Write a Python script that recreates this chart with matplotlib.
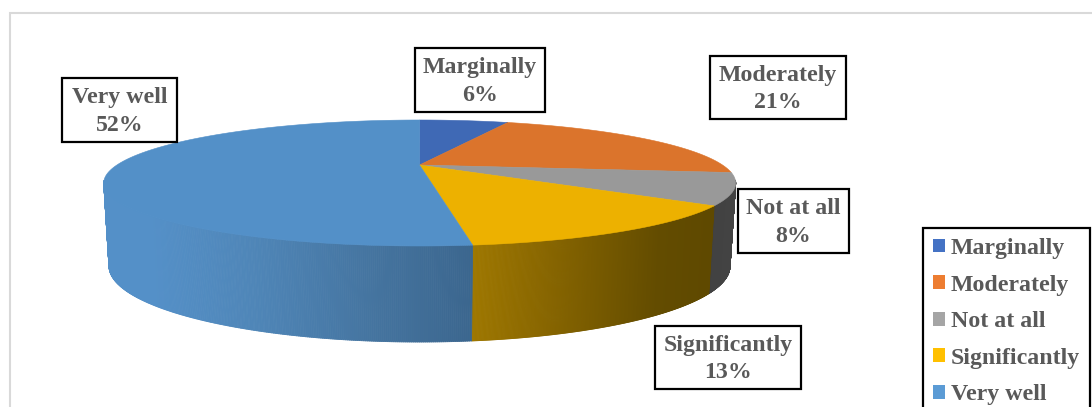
import numpy as np
import matplotlib
matplotlib.use('Agg')
import matplotlib.pyplot as plt
from matplotlib.collections import PolyCollection
from matplotlib.colors import to_rgb
from matplotlib.patches import Rectangle

categories = ['Marginally', 'Moderately', 'Not at all', 'Significantly', 'Very well']
percent = [6, 21, 8, 13, 52]

top_colors = ['#3F69B5', '#DB742C', '#999999', '#EDB100', '#5390C8']
legend_colors = ['#4472C4', '#ED7D31', '#A5A5A5', '#FFC000', '#5B9BD5']
# wall shading, (screen x, colour) stops
wall_stops = {
    0: [(0, '#3F69B5')],
    1: [(0, '#DB742C')],
    2: [(700, '#404040'), (740, '#444444')],
    3: [(474, '#9E7700'), (550, '#876500'), (660, '#634C00'), (710, '#5F4900')],
    4: [(150, '#5490C8'), (250, '#4F86B8'), (380, '#44739E'), (474, '#3B668E')],
}
# label boxes in pixels: left, top, right, bottom
label_boxes = [(415, 48, 545, 112), (710, 56, 846, 119), (738, 189, 849, 253),
               (655, 326, 801, 389), (62, 78, 177, 142)]

TEXT = '#595959'
plt.rcParams['font.family'] = ['Liberation Serif', 'DejaVu Serif']
FS = 17.2

fig = plt.figure(figsize=(10.92, 4.07), dpi=100)
ax = fig.add_axes([0, 0, 1, 1])
ax.set_xlim(0, 1092)
ax.set_ylim(407, 0)
ax.axis('off')

# chart area border
ax.add_patch(Rectangle((10, 13), 1200, 500, fc='white', ec='#D9D9D9', lw=1.5))

# perspective of the disc, angle runs clockwise from the top
K = 0.2857


def top_rim(a):
    x, y = np.sin(a), -np.cos(a)
    d = 1 - K * y
    return 419.7 + 302.8 * x / d, 165 + 57.86 * y / d


def bottom_rim(a):
    x, y = np.sin(a), -np.cos(a)
    d = 1 - K * y
    return 419.5 + 297.6 * x / d, 244.3 + 69.8 * y / d


def shade(i, xpos):
    stops = wall_stops[i]
    xs = [s[0] for s in stops]
    rgb = np.array([to_rgb(s[1]) for s in stops])
    return tuple(np.interp(xpos, xs, rgb[:, c]) for c in range(3))


edges = np.concatenate([[0], np.cumsum(percent)]) / np.sum(percent) * 2 * np.pi
visible_from = np.arccos(-K) - 0.04
visible_to = 2 * np.pi - visible_from

# walls first, then the top face over them
for i in range(len(percent)):
    a0 = max(edges[i], visible_from)
    a1 = min(edges[i + 1], visible_to)
    if a1 <= a0:
        continue
    a = np.linspace(a0, a1, 300)
    xt, yt = top_rim(a)
    xb, yb = bottom_rim(a)
    polys = []
    cols = []
    for j in range(len(a) - 1):
        polys.append([(xt[j], yt[j]), (xt[j + 1], yt[j + 1]), (xb[j + 1], yb[j + 1]), (xb[j], yb[j])])
        cols.append(shade(i, (xt[j] + xt[j + 1]) / 2))
    ax.add_collection(PolyCollection(polys, facecolors=cols, edgecolors=cols, linewidths=0.6))

for i in range(len(percent)):
    a = np.linspace(edges[i], edges[i + 1], 200)
    xt, yt = top_rim(a)
    ax.fill(np.r_[419.5, xt], np.r_[165, yt], fc=top_colors[i], ec=top_colors[i], lw=0.4)

# data labels
for name, val, box in zip(categories, percent, label_boxes):
    l, t, r, b = box
    ax.add_patch(Rectangle((l, t), r - l, b - t, fc='white', ec='black', lw=1.6, zorder=5))
    ax.text((l + r) / 2, (t + b) / 2 + 1.5, '%s\n%d%%' % (name, val), color=TEXT, fontsize=FS,
            fontweight='bold', ha='center', va='center', linespacing=1.42, zorder=6)

# legend
handles = [Rectangle((0, 0), 1, 1, fc=c, ec='none') for c in legend_colors]
leg = ax.legend(handles, categories, loc='upper left', bbox_to_anchor=(923, 228),
                bbox_transform=ax.transData, borderaxespad=0,
                handlelength=0.51, handleheight=0.51, handletextpad=0.23,
                labelspacing=0.65, borderpad=0.42, labelcolor=TEXT, fancybox=False,
                framealpha=1, edgecolor='black',
                prop={'family': 'Liberation Serif', 'weight': 'bold', 'size': FS})
leg.get_frame().set_linewidth(1.6)

fig.savefig('out.png', dpi=100)
